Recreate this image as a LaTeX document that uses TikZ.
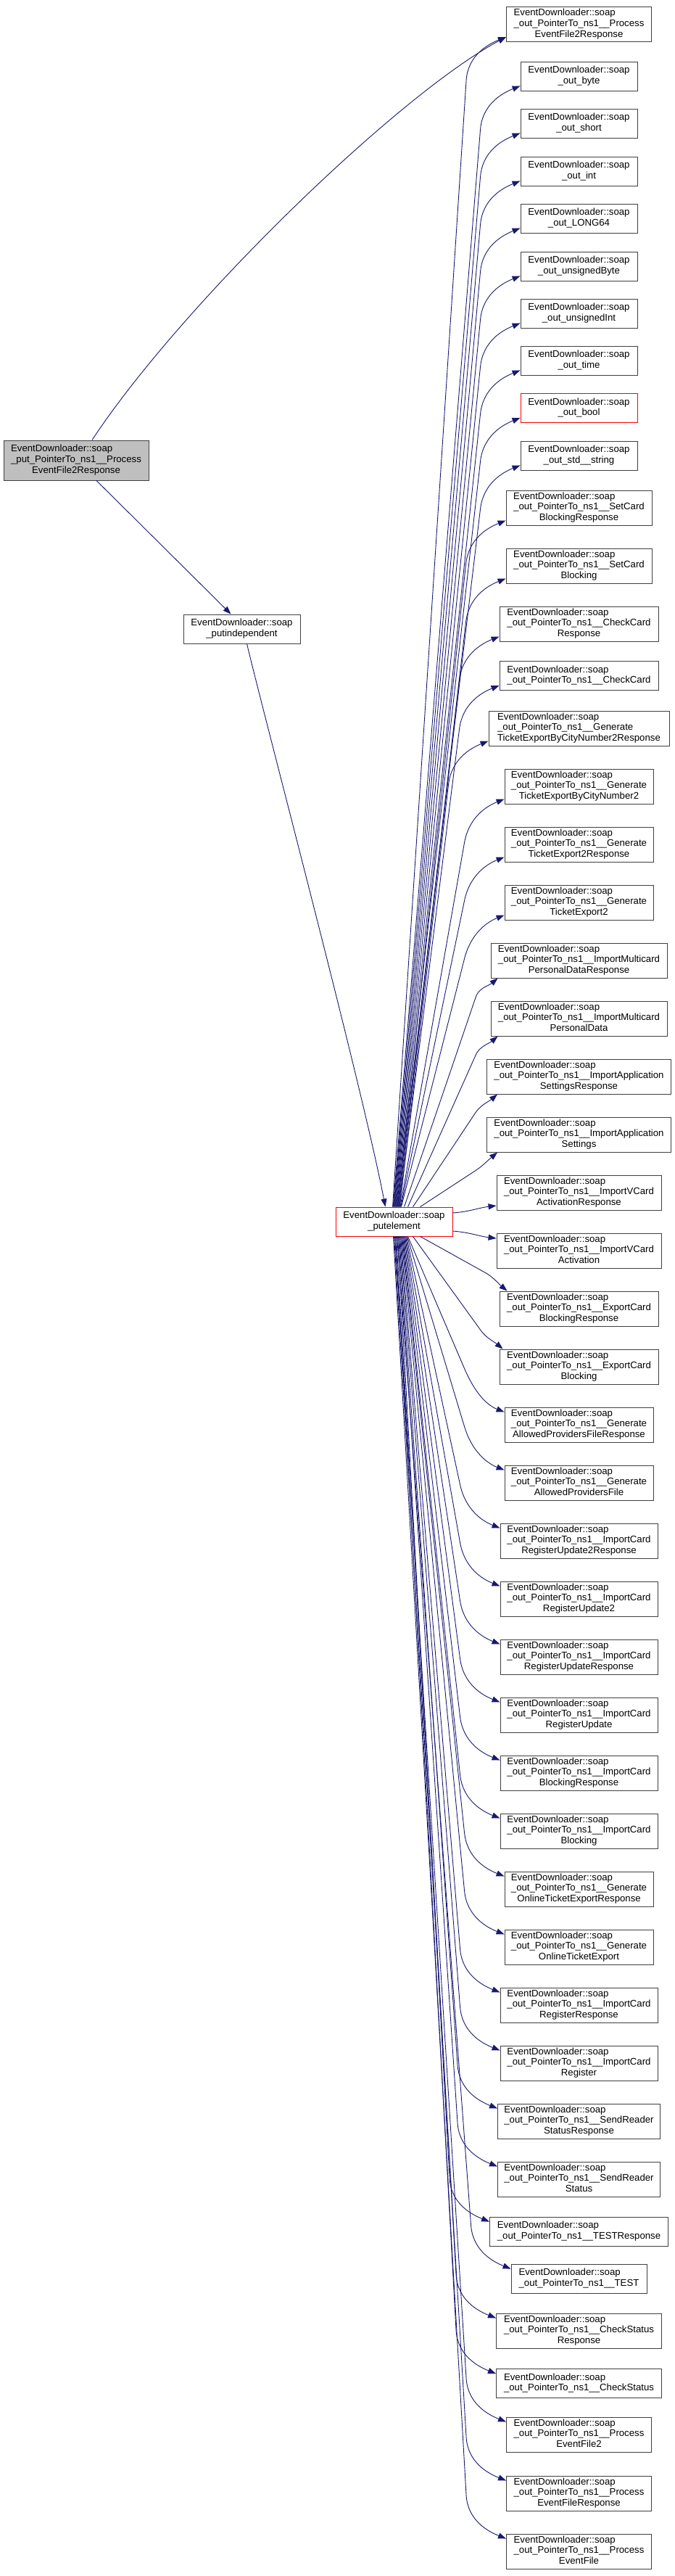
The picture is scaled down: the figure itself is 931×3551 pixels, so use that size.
\documentclass[tikz,border=0pt]{standalone}
\usepackage{fontspec}
\setmainfont{Liberation Sans}
\usetikzlibrary{arrows.meta,calc}
\definecolor{edgec}{HTML}{191970}
\definecolor{boxc}{HTML}{404040}
\definecolor{rootfill}{HTML}{BFBFBF}
\newcommand\twol[2]{\begin{tabular}{@{}l@{}}#1\\\multicolumn{1}{@{}c@{}}{#2}\end{tabular}}
\newcommand\threel[3]{\begin{tabular}{@{}l@{}}#1\\#2\\\multicolumn{1}{@{}c@{}}{#3}\end{tabular}}
\newcommand\EDs{EventDownloader::soap}
\newcommand\OPns{\_out\_PointerTo\_ns1\_\_}
\newcommand\rnode[4]{\node[box, minimum width=#3pt] (#1) at (798.5,#2) {#4};}
% far edge upward: #1 target, #2 start offset
\newcommand\upfar[2]{%
  \coordinate (S) at ([xshift=#2pt]pe.north west);
  \coordinate (E) at ([yshift=7pt]#1.south west);
  \coordinate (P) at ($(E)+(-55,60)$);
  \draw[edge] (S) -- (P) .. controls ($(P)!-35pt!(S)$) and ($(E)+(-25,10)$) .. (E);}
\newcommand\upnear[3]{%
  \coordinate (S) at ([xshift=#2pt]pe.north west);
  \coordinate (E) at ([xshift=#3pt]#1.south west);
  \coordinate (P) at ($(E)+(-30,25)$);
  \draw[edge] (S) -- (P) .. controls ($(P)!-12pt!(S)$) and ($(E)+(-12,10)$) .. (E);}
\newcommand\downfar[2]{%
  \coordinate (S) at ([xshift=#2pt]pe.south west);
  \coordinate (E) at ([yshift=-7pt]#1.north west);
  \coordinate (P) at ($(E)+(-55,-60)$);
  \draw[edge] (S) -- (P) .. controls ($(P)!-35pt!(S)$) and ($(E)+(-25,-10)$) .. (E);}
\newcommand\downnear[3]{%
  \coordinate (S) at ([xshift=#2pt]pe.south west);
  \coordinate (E) at ([xshift=#3pt]#1.north west);
  \coordinate (P) at ($(E)+(-30,-25)$);
  \draw[edge] (S) -- (P) .. controls ($(P)!-12pt!(S)$) and ($(E)+(-12,-10)$) .. (E);}
\begin{document}
\begin{tikzpicture}[x=1pt,y=-1pt,
  box/.style={draw=boxc, line width=0.9pt, fill=white, inner sep=2pt,
    minimum height=40pt, font=\fontsize{13.2}{14.7}\selectfont},
  edge/.style={draw=edgec, line width=0.9pt, -{Triangle[length=11pt,width=8pt]}}]
\fill[white] (0,0) rectangle (931,3551);
\useasboundingbox (0,0) rectangle (931,3551);

% left nodes
\node[box, fill=rootfill, minimum width=200pt, minimum height=55pt] (root) at (105,634.5)
  {\threel{\EDs}{\_put\_PointerTo\_ns1\_\_Process}{EventFile2Response}};
\node[box, minimum width=161pt] (pi) at (333.5,867) {\twol{\EDs}{\_putindependent}};
\node[box, draw=red, minimum width=161pt] (pe) at (543.5,1684) {\twol{\EDs}{\_putelement}};

% right column
\rnode{n1}{33.5}{200}{\threel{\EDs}{\OPns Process}{EventFile2Response}}
\rnode{n2}{105}{161}{\twol{\EDs}{\_out\_byte}}
\rnode{n3}{170}{161}{\twol{\EDs}{\_out\_short}}
\rnode{n4}{236}{161}{\twol{\EDs}{\_out\_int}}
\rnode{n5}{301}{161}{\twol{\EDs}{\_out\_LONG64}}
\rnode{n6}{367}{161}{\twol{\EDs}{\_out\_unsignedByte}}
\rnode{n7}{432}{161}{\twol{\EDs}{\_out\_unsignedInt}}
\rnode{n8}{497}{161}{\twol{\EDs}{\_out\_time}}
\node[box, draw=red, minimum width=161pt] (n9) at (798.5,562.5) {\twol{\EDs}{\_out\_bool}};
\rnode{n10}{628}{161}{\twol{\EDs}{\_out\_std\_\_string}}
\rnode{n11}{700}{201}{\threel{\EDs}{\OPns SetCard}{BlockingResponse}}
\rnode{n12}{780}{201}{\threel{\EDs}{\OPns SetCard}{Blocking}}
\rnode{n13}{860}{219}{\threel{\EDs}{\OPns CheckCard}{Response}}
\rnode{n14}{931.5}{219}{\twol{\EDs}{\OPns CheckCard}}
\rnode{n15}{1004}{249}{\threel{\EDs}{\OPns Generate}{TicketExportByCityNumber2Response}}
\rnode{n16}{1084}{205}{\threel{\EDs}{\OPns Generate}{TicketExportByCityNumber2}}
\rnode{n17}{1164}{205}{\threel{\EDs}{\OPns Generate}{TicketExport2Response}}
\rnode{n18}{1244}{205}{\threel{\EDs}{\OPns Generate}{TicketExport2}}
\rnode{n19}{1324}{243}{\threel{\EDs}{\OPns ImportMulticard}{PersonalDataResponse}}
\rnode{n20}{1404}{243}{\threel{\EDs}{\OPns ImportMulticard}{PersonalData}}
\rnode{n21}{1484}{254}{\threel{\EDs}{\OPns ImportApplication}{SettingsResponse}}
\rnode{n22}{1564}{254}{\threel{\EDs}{\OPns ImportApplication}{Settings}}
\rnode{n23}{1644}{227}{\threel{\EDs}{\OPns ImportVCard}{ActivationResponse}}
\rnode{n24}{1724}{227}{\threel{\EDs}{\OPns ImportVCard}{Activation}}
\rnode{n25}{1804}{219}{\threel{\EDs}{\OPns ExportCard}{BlockingResponse}}
\rnode{n26}{1884}{219}{\threel{\EDs}{\OPns ExportCard}{Blocking}}
\rnode{n27}{1964}{205}{\threel{\EDs}{\OPns Generate}{AllowedProvidersFileResponse}}
\rnode{n28}{2044}{205}{\threel{\EDs}{\OPns Generate}{AllowedProvidersFile}}
\rnode{n29}{2124}{217}{\threel{\EDs}{\OPns ImportCard}{RegisterUpdate2Response}}
\rnode{n30}{2204}{217}{\threel{\EDs}{\OPns ImportCard}{RegisterUpdate2}}
\rnode{n31}{2284}{217}{\threel{\EDs}{\OPns ImportCard}{RegisterUpdateResponse}}
\rnode{n32}{2364}{217}{\threel{\EDs}{\OPns ImportCard}{RegisterUpdate}}
\rnode{n33}{2444}{217}{\threel{\EDs}{\OPns ImportCard}{BlockingResponse}}
\rnode{n34}{2524}{217}{\threel{\EDs}{\OPns ImportCard}{Blocking}}
\rnode{n35}{2604}{205}{\threel{\EDs}{\OPns Generate}{OnlineTicketExportResponse}}
\rnode{n36}{2684}{205}{\threel{\EDs}{\OPns Generate}{OnlineTicketExport}}
\rnode{n37}{2764}{217}{\threel{\EDs}{\OPns ImportCard}{RegisterResponse}}
\rnode{n38}{2844}{217}{\threel{\EDs}{\OPns ImportCard}{Register}}
\rnode{n39}{2924}{224}{\threel{\EDs}{\OPns SendReader}{StatusResponse}}
\rnode{n40}{3004}{224}{\threel{\EDs}{\OPns SendReader}{Status}}
\rnode{n41}{3076}{246}{\twol{\EDs}{\OPns TESTResponse}}
\rnode{n42}{3141}{187}{\twol{\EDs}{\OPns TEST}}
\rnode{n43}{3213}{228}{\threel{\EDs}{\OPns CheckStatus}{Response}}
\rnode{n44}{3285.5}{228}{\twol{\EDs}{\OPns CheckStatus}}
\rnode{n45}{3356}{200}{\threel{\EDs}{\OPns Process}{EventFile2}}
\rnode{n46}{3437}{200}{\threel{\EDs}{\OPns Process}{EventFileResponse}}
\rnode{n47}{3517}{200}{\threel{\EDs}{\OPns Process}{EventFile}}

% edges from the root
\draw[edge] ([xshift=22pt]root.north) .. controls (250,420) and (550,130) .. ([yshift=7pt]n1.south west);
\draw[edge] ([xshift=28pt]root.south) -- ([xshift=-15pt]pi.north);
\draw[edge] ([xshift=7pt]pi.south) .. controls (370,1010) and (500,1500) .. ([xshift=-12pt]pe.north);

% edges from putelement, upward
\foreach \t [count=\i from 0] in {n1,n2,n3,n4,n5,n6,n7,n8,n9,n10,n11,n12,n13,n14,n15,n16,n17,n18}
  {\pgfmathsetmacro\off{79+\i*0.7}\upfar{\t}{\off}}
\upnear{n19}{95}{10}
\upnear{n20}{100}{10}
\upnear{n21}{107}{15}
\upnear{n22}{117}{15}
\draw[edge] ([yshift=12pt]pe.east) .. controls +(25,-2) and +(-25,3) .. ([yshift=-18pt]n23.west);
\draw[edge] ([yshift=-13pt]pe.east) .. controls +(25,2) and +(-25,-3) .. ([yshift=17pt]n24.west);
% downward
\downnear{n25}{117}{11}
\downnear{n26}{107}{5}
\foreach \t [count=\i from 0] in {n27,n28,n29,n30,n31,n32,n33,n34,n35,n36,n37,n38,n39,n40,n41,n42,n43,n44,n45,n46,n47}
  {\pgfmathsetmacro\off{100-\i*1.0}\downfar{\t}{\off}}
\end{tikzpicture}
\end{document}
